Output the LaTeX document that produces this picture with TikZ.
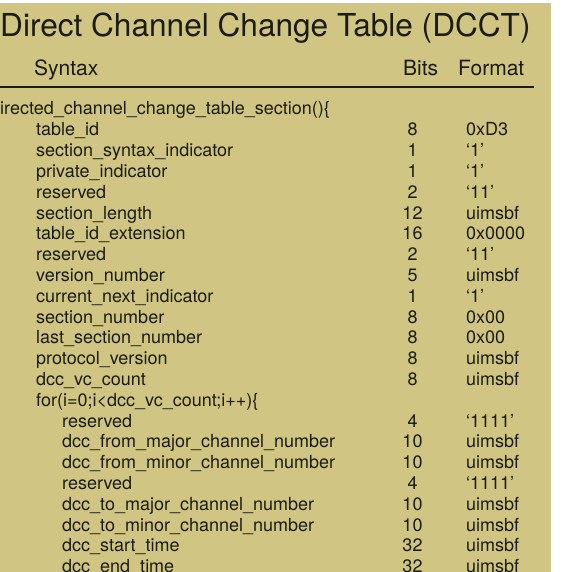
\documentclass[tikz,border=0pt]{standalone}
\usepackage{fontspec}
\setmainfont{TeX Gyre Heros}
\definecolor{panel}{RGB}{208,197,130}
\definecolor{ink}{RGB}{28,27,20}
\begin{document}
\begin{tikzpicture}[x=1pt,y=-1pt,
  txt/.style={inner sep=0pt, text=ink},
  titletext/.style={txt, anchor=base west, font=\fontsize{31.6}{36}\selectfont},
  headtext/.style={txt, anchor=base west, font=\fontsize{21}{24}\selectfont},
  cell/.style={txt, anchor=base west, font=\fontsize{18}{21}\selectfont},
  bitcell/.style={txt, anchor=base, font=\fontsize{18}{21}\selectfont},
  fmtcell/.style={cell}]
\useasboundingbox (0,0) rectangle (570,572);
\clip (0,0) rectangle (570,572);
% background panel
\fill[panel] (0,3) rectangle (551,572);
% title and column heads
\node[titletext] (title) at (0,37) {Direct Channel Change Table (DCCT)};
\node[headtext] (hsyntax) at (34,76) {Syntax};
\node[headtext] (hbits) at (403,76) {Bits};
\node[headtext] (hformat) at (458,76) {Format};
\coordinate (ruleL) at (0,87);
\coordinate (ruleR) at (534,87);
\draw[ink, line width=1.3pt] (ruleL) -- (ruleR);
% syntax rows
\def\rowy#1{115+20.8*#1}
\node[cell] (s0) at (-13,{\rowy{0}}) {Directed\_channel\_change\_table\_section()\{};
\foreach \n/\x/\s/\b/\f in {
  1/36/table\_id/8/0xD3,
  2/36/section\_syntax\_indicator/1/‘1’,
  3/36/private\_indicator/1/‘1’,
  4/36/reserved/2/‘11’,
  5/36/section\_length/12/uimsbf,
  6/36/table\_id\_extension/16/0x0000,
  7/36/reserved/2/‘11’,
  8/36/version\_number/5/uimsbf,
  9/36/current\_next\_indicator/1/‘1’,
  10/36/section\_number/8/0x00,
  11/36/last\_section\_number/8/0x00,
  12/36/protocol\_version/8/uimsbf,
  13/36/dcc\_vc\_count/8/uimsbf,
  15/62/reserved/4/‘1111’,
  16/62/dcc\_from\_major\_channel\_number/10/uimsbf,
  17/62/dcc\_from\_minor\_channel\_number/10/uimsbf,
  18/62/reserved/4/‘1111’,
  19/62/dcc\_to\_major\_channel\_number/10/uimsbf,
  20/62/dcc\_to\_minor\_channel\_number/10/uimsbf,
  21/62/dcc\_start\_time/32/uimsbf,
  22/62/dcc\_end\_time/32/uimsbf}{
  \node[cell] (s\n) at (\x,{\rowy{\n}}) {\s};
  \node[bitcell] (b\n) at (412.5,{\rowy{\n}}) {\b};
  \node[fmtcell] (f\n) at (466,{\rowy{\n}}) {\f};
}
\node[cell] (s14) at (36,{\rowy{14}}) {for(i=0;i<dcc\_vc\_count;i++)\{};
\end{tikzpicture}
\end{document}
